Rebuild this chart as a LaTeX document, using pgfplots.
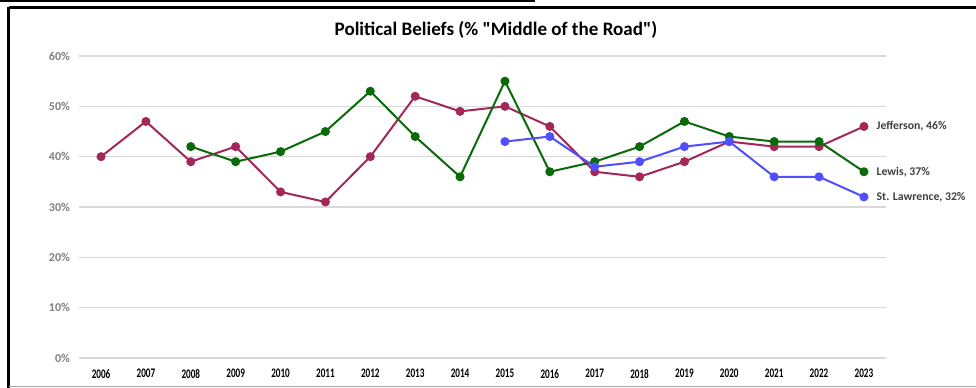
\documentclass[border=0pt]{standalone}
\usepackage{pgfplots}
\pgfplotsset{compat=1.18}
\usepackage{fontspec}
\setmainfont{Carlito}
\newfontfamily\narrowfont[FakeStretch=0.7]{Carlito}
\definecolor{jeff}{HTML}{A3285A}
\definecolor{lewis}{HTML}{0A6A0A}
\definecolor{stl}{HTML}{4F4FFF}
\definecolor{gridc}{HTML}{D9D9D9}
\definecolor{tickc}{HTML}{7F7F7F}
\definecolor{labc}{HTML}{404040}
\begin{document}
\begin{tikzpicture}
\begin{scope}[x=0.75pt,y=-0.75pt]
\useasboundingbox (0,0) rectangle (976,388);
\fill[white] (0,0) rectangle (976,388);
\draw[black,line width=1.2pt] (0,0.8) -- (535,0.8);
\draw[black,line width=2.3pt] (8.5,7.5) -- (976,7.5);
\draw[black,line width=2.3pt] (8.5,7.5) -- (8.5,388);
\draw[gray!70,line width=0.9pt] (8.5,386.5) -- (976,386.5);
\node[font=\bfseries\fontsize{14.3}{17}\selectfont] at (496,30) {Political Beliefs (\% \textquotedbl Middle of the Road\textquotedbl)};
\end{scope}
\begin{axis}[
  at={(58.95pt,-268.5pt)}, anchor=south west,
  scale only axis, width=605.85pt, height=226.5pt,
  xmin=2005.5, xmax=2023.5, ymin=0, ymax=60,
  axis line style={draw=none},
  ymajorgrids, grid style={gridc, line width=0.8pt},
  ytick={0,10,...,60},
  yticklabel={\pgfmathprintnumber{\tick}\%},
  yticklabel style={font=\bfseries\fontsize{9}{10}\selectfont, text=tickc, xshift=-3pt},
  xtick={2006,...,2023},
  xticklabel style={font=\narrowfont\bfseries\fontsize{9.8}{11}\selectfont, text=black, yshift=-5pt},
  /pgf/number format/assume math mode=true,
  xticklabel={\pgfmathprintnumber[1000 sep={}]{\tick}},
  major tick length=0pt,
  tick style={draw=none},
  clip=false,
  every axis plot/.append style={line width=1.5pt, mark=*, mark size=2.6pt},
]
\addplot[jeff, mark options={fill=jeff, draw=jeff}] coordinates {
(2006,40)(2007,47)(2008,39)(2009,42)(2010,33)(2011,31)(2012,40)(2013,52)(2014,49)
(2015,50)(2016,46)(2017,37)(2018,36)(2019,39)(2020,43)(2021,42)(2022,42)(2023,46)};
\addplot[lewis, mark options={fill=lewis, draw=lewis}] coordinates {
(2008,42)(2009,39)(2010,41)(2011,45)(2012,53)(2013,44)(2014,36)(2015,55)
(2016,37)(2017,39)(2018,42)(2019,47)(2020,44)(2021,43)(2022,43)(2023,37)};
\addplot[stl, mark options={fill=stl, draw=stl}] coordinates {
(2015,43)(2016,44)(2017,38)(2018,39)(2019,42)(2020,43)(2021,36)(2022,36)(2023,32)};
\node[anchor=west, text=labc, font=\bfseries\fontsize{8.8}{10}\selectfont, xshift=6pt] at (axis cs:2023,46) {Jefferson, 46\%};
\node[anchor=west, text=labc, font=\bfseries\fontsize{8.8}{10}\selectfont, xshift=6pt] at (axis cs:2023,37) {Lewis, 37\%};
\node[anchor=west, text=labc, font=\bfseries\fontsize{8.8}{10}\selectfont, xshift=6pt] at (axis cs:2023,32) {St. Lawrence, 32\%};
\end{axis}
\end{tikzpicture}
\end{document}
